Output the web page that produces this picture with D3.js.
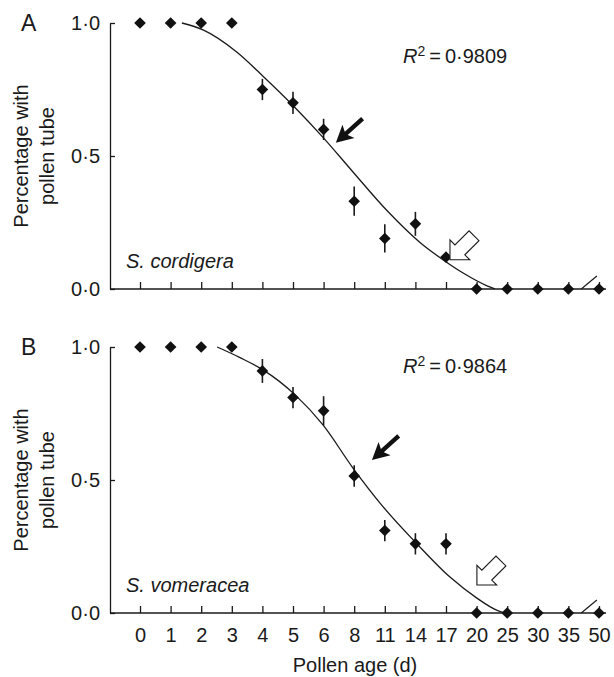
<!DOCTYPE html>
<html>
<head>
<meta charset="utf-8">
<style>
    html, body {
        margin: 0;
        padding: 0;
        background: #ffffff;
    }
    svg {
        display: block;
        font-family: "Liberation Sans", Arial, sans-serif;
    }
    text {
        fill: #1a1a1a;
    }
</style>
<script src="https://cdn.jsdelivr.net/npm/d3@7"></script>
</head>
<body>
<div id="chart"></div>
<script>
    // pollen age categories (x axis, evenly spaced)
    var categories = ["0", "1", "2", "3", "4", "5", "6", "8", "11", "14", "17", "20", "25", "30", "35", "50"];

    // panel A - S. cordigera
    var valuesA = [1, 1, 1, 1, 0.75, 0.70, 0.60, 0.33, 0.19, 0.245, 0.12, 0, 0, 0, 0, 0];
    var errorsA = [0, 0, 0, 0, 0.04, 0.042, 0.04, 0.055, 0.053, 0.045, 0, 0, 0, 0, 0, 0];
    // fitted curve (position on category axis, value)
    var fitPosA = [1.37, 2.06, 3.17, 4.02, 5.0, 5.98, 6.96, 8.07, 9.15, 9.9, 10.56, 11.34, 11.6];
    var fitValA = [1.0, 0.974, 0.89, 0.80, 0.69, 0.57, 0.44, 0.295, 0.175, 0.11, 0.06, 0.012, 0];

    // panel B - S. vomeracea
    var valuesB = [1, 1, 1, 1, 0.91, 0.81, 0.76, 0.515, 0.31, 0.26, 0.26, 0, 0, 0, 0, 0];
    var errorsB = [0, 0, 0, 0, 0.045, 0.04, 0.055, 0.04, 0.04, 0.04, 0.04, 0, 0, 0, 0, 0];
    var fitPosB = [2.52, 3.27, 4.02, 5.07, 5.98, 6.96, 7.94, 9.05, 10.13, 11.01, 11.67, 11.93];
    var fitValB = [1.0, 0.96, 0.914, 0.82, 0.707, 0.545, 0.40, 0.26, 0.135, 0.056, 0.01, 0];

    var yTicks = [0, 0.5, 1];

    var width = 614,
        height = 677,
        fontSize = 20;

    var svg = d3.select("#chart").append("svg")
        .attr("width", width)
        .attr("height", height);

    var x = d3.scaleLinear()
        .domain([0, categories.length - 1])
        .range([140, 599]);

    var axisLeftX = 110,
        axisRightX = 606;

    // arrow shapes, pointing along +x with the tip at origin
    var solidArrow = "M0,0 L-17,-9 L-14,-2.2 L-36,-2.2 L-36,2.2 L-14,2.2 L-17,9 Z";
    var hollowArrow = "M0,0 L-14,-14 L-14,-7 L-34,-7 L-34,7 L-14,7 L-14,14 Z";

    function drawPanel(p) {
        var y = d3.scaleLinear()
            .domain([0, 1])
            .range([p.bottom, p.top]);

        var g = svg.append("g");

        // y axis
        var yAxis = d3.axisLeft(y)
            .tickValues(yTicks)
            .tickSize(-5)
            .tickSizeOuter(0)
            .tickPadding(10)
            .tickFormat(function (d) { return d.toFixed(1).replace(".", "\u00b7"); });

        var ya = g.append("g")
            .attr("transform", "translate(" + axisLeftX + ",0)")
            .call(yAxis);
        ya.selectAll("text")
            .attr("font-size", fontSize)
            .attr("font-family", "Liberation Sans, Arial, sans-serif")
            .attr("fill", "#1a1a1a");
        ya.selectAll("path, line").attr("stroke", "#1a1a1a").attr("stroke-width", 1.3);

        // x axis
        var xAxis = d3.axisBottom(x)
            .tickValues(d3.range(categories.length))
            .tickSize(-7)
            .tickSizeOuter(0)
            .tickPadding(15)
            .tickFormat(function (i) { return p.showLabels ? categories[i] : ""; });

        var xa = g.append("g")
            .attr("transform", "translate(0," + p.bottom + ")")
            .call(xAxis);
        xa.select(".domain").remove();
        xa.append("line")
            .attr("x1", axisLeftX)
            .attr("x2", axisRightX)
            .attr("stroke", "#1a1a1a")
            .attr("stroke-width", 1.3);
        xa.selectAll("text")
            .attr("font-size", fontSize)
            .attr("font-family", "Liberation Sans, Arial, sans-serif")
            .attr("fill", "#1a1a1a");
        xa.selectAll("line").attr("stroke", "#1a1a1a").attr("stroke-width", 1.3);

        // axis break mark between 35 and 50
        g.append("line")
            .attr("x1", x(14.42))
            .attr("y1", y(0))
            .attr("x2", x(14.93))
            .attr("y2", y(0) - 13)
            .attr("stroke", "#1a1a1a")
            .attr("stroke-width", 1.2);

        // fitted curve
        var fit = p.fitPos.map(function (d, i) { return [d, p.fitVal[i]]; });
        var line = d3.line()
            .x(function (d) { return x(d[0]); })
            .y(function (d) { return y(d[1]); })
            .curve(d3.curveMonotoneX);

        g.append("path")
            .datum(fit)
            .attr("d", line)
            .attr("fill", "none")
            .attr("stroke", "#1a1a1a")
            .attr("stroke-width", 1.3);

        // error bars
        var pts = p.values.map(function (v, i) { return { i: i, v: v, e: p.errors[i] }; });

        g.selectAll(".err")
            .data(pts.filter(function (d) { return d.e > 0; }))
            .enter().append("line")
            .attr("class", "err")
            .attr("x1", function (d) { return x(d.i); })
            .attr("x2", function (d) { return x(d.i); })
            .attr("y1", function (d) { return y(d.v + d.e); })
            .attr("y2", function (d) { return y(d.v - d.e); })
            .attr("stroke", "#1a1a1a")
            .attr("stroke-width", 1.6);

        // diamonds
        var sym = d3.symbol().type(d3.symbolSquare).size(68);
        g.selectAll(".pt")
            .data(pts)
            .enter().append("path")
            .attr("class", "pt")
            .attr("d", sym)
            .attr("transform", function (d) {
                return "translate(" + x(d.i) + "," + y(d.v) + ") rotate(45)";
            })
            .attr("fill", "#111");

        // arrows
        g.append("path")
            .attr("d", solidArrow)
            .attr("transform", "translate(" + x(p.solidTip[0]) + "," + y(p.solidTip[1]) + ") rotate(138)")
            .attr("fill", "#111");

        g.append("path")
            .attr("d", hollowArrow)
            .attr("transform", "translate(" + x(p.hollowTip[0]) + "," + y(p.hollowTip[1]) + ") rotate(135)")
            .attr("fill", "#fff")
            .attr("stroke", "#1a1a1a")
            .attr("stroke-width", 1.1)
            .attr("stroke-linejoin", "miter");

        // panel letter
        g.append("text")
            .attr("x", 21)
            .attr("y", p.top + 8)
            .attr("font-size", 23)
            .text(p.letter);

        // y title
        var yt = g.append("text")
            .attr("transform", "translate(0," + ((p.top + p.bottom) / 2) + ") rotate(-90)")
            .attr("text-anchor", "middle")
            .attr("font-size", fontSize);
        yt.append("tspan").attr("x", 0).attr("y", 28).text("Percentage with");
        yt.append("tspan").attr("x", 0).attr("y", 54).text("pollen tube");

        // R squared
        var r = g.append("text")
            .attr("x", 403)
            .attr("y", p.r2y)
            .attr("font-size", fontSize);
        r.append("tspan").attr("font-style", "italic").text("R");
        r.append("tspan").attr("font-size", 14).attr("dy", -7).text("2");
        r.append("tspan").attr("dy", 7).text("\u2009=\u2009" + p.r2);

        // species name
        g.append("text")
            .attr("x", 126)
            .attr("y", p.speciesY)
            .attr("font-size", fontSize)
            .attr("font-style", "italic")
            .text(p.species);
    }

    drawPanel({
        letter: "A",
        top: 23, bottom: 289,
        values: valuesA, errors: errorsA,
        fitPos: fitPosA, fitVal: fitValA,
        solidTip: [6.4, 0.55], hollowTip: [10.13, 0.11],
        r2: "0\u00b79809", r2y: 63,
        species: "S. cordigera", speciesY: 268,
        showLabels: false
    });

    drawPanel({
        letter: "B",
        top: 347, bottom: 613,
        values: valuesB, errors: errorsB,
        fitPos: fitPosB, fitVal: fitValB,
        solidTip: [7.58, 0.575], hollowTip: [11.01, 0.105],
        r2: "0\u00b79864", r2y: 373,
        species: "S. vomeracea", speciesY: 592,
        showLabels: true
    });

    // x axis title
    svg.append("text")
        .attr("x", 355)
        .attr("y", 672)
        .attr("text-anchor", "middle")
        .attr("font-size", fontSize)
        .text("Pollen age (d)");
</script>
</body>
</html>
